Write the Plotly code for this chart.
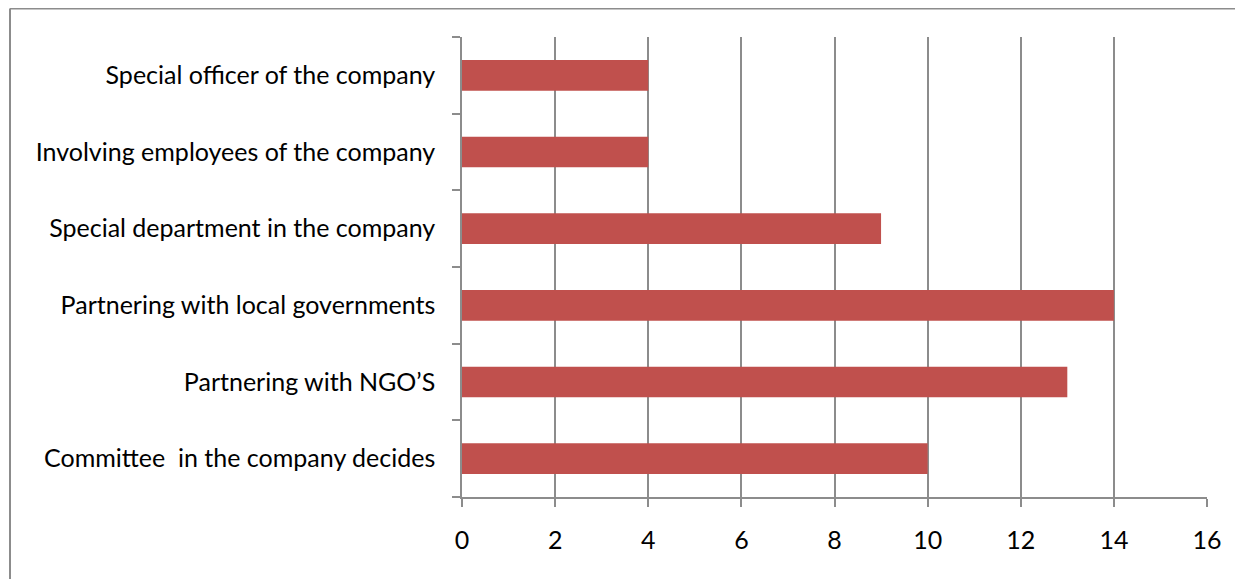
import plotly.graph_objects as go

categories = [
    "Committee\u00a0\u00a0in the company decides",
    "Partnering with NGO\u2019S",
    "Partnering with local governments",
    "Special department in the company",
    "Involving employees of the company",
    "Special officer of the company",
]
values = [10, 13, 14, 9, 4, 4]
x_ticks = [0, 2, 4, 6, 8, 10, 12, 14, 16]

W, H = 1235, 571
L, R, T, B = 454, 36, 29, 82
PW, PH = W - L - R, H - T - B

fig = go.Figure(go.Bar(
    y=categories, x=values, orientation="h",
    marker=dict(color="#C0504D", line=dict(width=0)),
))

grid = "#8C8C8C"
fig.update_layout(
    width=W, height=H,
    margin=dict(l=L, r=R, t=T, b=B),
    paper_bgcolor="white", plot_bgcolor="white",
    bargap=0.6,
    showlegend=False,
    font=dict(family="Lato, Open Sans, sans-serif", size=25, color="black"),
    xaxis=dict(
        range=[0, 16], tickvals=x_ticks, showgrid=True, gridcolor=grid, gridwidth=1.5,
        showline=True, linecolor=grid, linewidth=1.5,
        ticks="outside", ticklen=8, tickcolor=grid, tickwidth=1.5,
        zeroline=False, ticklabelstandoff=12,
        tickfont=dict(size=25),
    ),
    yaxis=dict(
        categoryorder="array", categoryarray=categories,
        showline=True, linecolor=grid, linewidth=1.5,
        ticks="outside", ticklen=8, tickcolor=grid, tickwidth=1.5,
        tickson="boundaries", showgrid=False, zeroline=False,
        ticklabelstandoff=20, tickfont=dict(size=25),
    ),
    shapes=[
        dict(type="line", xref="paper", yref="paper",
             x0=(2 - L) / PW, x1=(W - L) / PW,
             y0=(T + PH - 0.5) / PH, y1=(T + PH - 0.5) / PH,
             line=dict(color="#8C8C8C", width=2)),
        dict(type="line", xref="paper", yref="paper",
             x0=(2 - L) / PW, x1=(2 - L) / PW,
             y0=(T + PH - 0.5) / PH, y1=-B / PH,
             line=dict(color="#8C8C8C", width=2)),
    ],
)

fig.write_html("out.html")
